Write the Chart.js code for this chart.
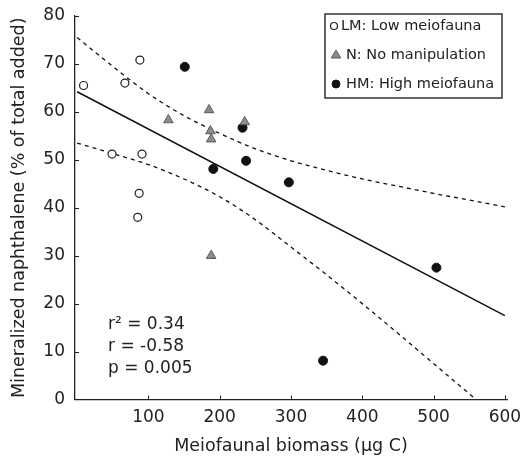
<!DOCTYPE html>
<html>
<head>
<meta charset="utf-8">
<script src="https://cdn.jsdelivr.net/npm/chart.js@4"></script>
<style>
  html, body { margin: 0; padding: 0; background: #fff; }
  #wrap { width: 525px; height: 460px; }
</style>
</head>
<body>
<div id="wrap"><canvas id="chart" width="525" height="460"></canvas></div>
<script>
// meiofaunal biomass (ug C) vs mineralized naphthalene (%)
const lowX = [9, 67, 88, 49, 91, 87, 85];
const lowY = [65.5, 66, 70.8, 51.2, 51.2, 43, 38];
const noManipX = [128, 185, 187, 188, 235, 188];
const noManipY = [58.3, 60.4, 56, 54.3, 57.9, 30];
const highX = [151, 232, 191, 237, 297, 504, 345];
const highY = [69.4, 56.7, 48.1, 49.8, 45.3, 27.5, 8.1];

// fitted line and 95% band
const fitX = [0, 600];
const fitY = [64.2, 17.5];
const bandX = [0, 50, 100, 150, 200, 250, 300, 350, 400, 450, 500, 550, 600];
const upperBand = [75.5, 69.5, 63.8, 59.2, 55.5, 52.3, 49.8, 47.8, 46.0, 44.5, 43.0, 41.6, 40.2];
const lowerBand = [53.5, 51.3, 49.0, 46.0, 42.3, 37.5, 31.8, 26.0, 20.0, 13.8, 7.5, 1.2, -5.0];

const xTicks = [100, 200, 300, 400, 500, 600];
const yTicks = [0, 10, 20, 30, 40, 50, 60, 70, 80];
const statsText = ['r\u00B2 = 0.34', 'r = -0.58', 'p = 0.005'];
const legendLabels = ['LM: Low meiofauna', 'N: No manipulation', 'HM: High meiofauna'];

const FONT = "'DejaVu Sans', sans-serif";
const INK = '#222';

const pts = (xs, ys) => xs.map((x, i) => ({ x: x, y: ys[i] }));

const styles = [
  { pointStyle: 'circle', radius: 4, bg: '#fff', border: '#222', bw: 1.2 },
  { pointStyle: 'triangle', radius: 5.5, bg: '#8c8c8c', border: '#5a5a5a', bw: 1 },
  { pointStyle: 'circle', radius: 4.5, bg: '#111', border: '#111', bw: 1 }
];

const pointSet = (label, data, s) => ({
  label: label,
  data: data,
  pointStyle: s.pointStyle,
  pointRadius: s.radius,
  backgroundColor: s.bg,
  borderColor: s.border,
  borderWidth: s.bw,
  showLine: false,
  order: 1
});

const lineSet = (data, dash) => ({
  data: data,
  showLine: true,
  pointRadius: 0,
  borderColor: '#111',
  borderWidth: dash ? 1.3 : 1.5,
  borderDash: dash ? [4, 4] : [],
  cubicInterpolationMode: 'monotone',
  fill: false,
  order: 5
});

// scales should not push the plot area around for label overhang
const noOverhang = (scale) => {
  scale.paddingLeft = 0;
  scale.paddingRight = 0;
  scale.paddingTop = 0;
  scale.paddingBottom = 0;
};

// legend box, stats text and inward tick marks
const extras = {
  id: 'extras',
  afterDraw(chart) {
    const ctx = chart.ctx;
    const xs = chart.scales.x, ys = chart.scales.y;
    const area = chart.chartArea;
    ctx.save();
    ctx.strokeStyle = INK;
    ctx.lineWidth = 1;
    ctx.beginPath();
    xTicks.forEach(v => {
      const px = Math.round(xs.getPixelForValue(v)) + 0.5;
      ctx.moveTo(px, area.bottom);
      ctx.lineTo(px, area.bottom - 4);
    });
    yTicks.slice(1).forEach(v => {
      const py = Math.round(ys.getPixelForValue(v)) + 0.5;
      ctx.moveTo(area.left, py);
      ctx.lineTo(area.left + 4, py);
    });
    ctx.stroke();

    // legend
    ctx.lineWidth = 1.5;
    ctx.strokeStyle = '#333';
    ctx.strokeRect(325, 14, 177, 84);
    ctx.font = '14.5px ' + FONT;
    ctx.textBaseline = 'middle';
    const rows = [26, 55, 84];
    legendLabels.forEach((txt, i) => {
      const s = styles[i];
      const cx = i === 0 ? 334 : 336;
      ctx.save();
      ctx.fillStyle = s.bg;
      ctx.strokeStyle = s.border;
      ctx.lineWidth = s.bw;
      ctx.beginPath();
      if (s.pointStyle === 'triangle') {
        const r = s.radius - 0.5;
        ctx.moveTo(cx, rows[i] - r);
        ctx.lineTo(cx + r * 0.95, rows[i] + r * 0.6);
        ctx.lineTo(cx - r * 0.95, rows[i] + r * 0.6);
        ctx.closePath();
      } else {
        ctx.arc(cx, rows[i], s.radius - 0.5, 0, Math.PI * 2);
      }
      ctx.fill();
      ctx.stroke();
      ctx.restore();
      ctx.fillStyle = INK;
      ctx.fillText(txt, i === 0 ? 341 : 346, rows[i]);
    });

    // stats
    ctx.font = '17px ' + FONT;
    ctx.textAlign = 'left';
    [325, 347, 369].forEach((y, i) => ctx.fillText(statsText[i], 108, y));
    ctx.restore();
  }
};

new Chart(document.getElementById('chart').getContext('2d'), {
  type: 'scatter',
  data: {
    datasets: [
      pointSet(legendLabels[0], pts(lowX, lowY), styles[0]),
      pointSet(legendLabels[1], pts(noManipX, noManipY), styles[1]),
      pointSet(legendLabels[2], pts(highX, highY), styles[2]),
      lineSet(pts(fitX, fitY), false),
      lineSet(pts(bandX, upperBand), true),
      lineSet(pts(bandX, lowerBand), true)
    ]
  },
  options: {
    responsive: false,
    animation: false,
    layout: { padding: { left: 0, right: 18, top: 16, bottom: 0 } },
    plugins: {
      legend: { display: false },
      tooltip: { enabled: false }
    },
    scales: {
      x: {
        type: 'linear',
        min: -3,
        max: 603,
        afterBuildTicks: (scale) => { scale.ticks = xTicks.map(v => ({ value: v })); },
        afterFit: (scale) => { scale.height = 60.5; noOverhang(scale); },
        grid: { display: true, drawOnChartArea: false, drawTicks: false },
        border: { display: true, color: INK, width: 1.3 },
        ticks: { color: INK, font: { family: FONT, size: 17 }, padding: 8, maxRotation: 0 },
        title: {
          display: true,
          text: 'Meiofaunal biomass (\u03BCg C)',
          color: INK,
          font: { family: FONT, size: 17.5 },
          padding: { top: 0, bottom: 3 }
        }
      },
      y: {
        type: 'linear',
        min: 0,
        max: 80,
        afterBuildTicks: (scale) => { scale.ticks = yTicks.map(v => ({ value: v })); },
        afterFit: (scale) => { scale.width = 75; noOverhang(scale); },
        grid: { display: true, drawOnChartArea: false, drawTicks: false },
        border: { display: true, color: INK, width: 1.3 },
        ticks: { color: INK, font: { family: FONT, size: 17 }, padding: 10 },
        title: {
          display: true,
          text: 'Mineralized naphthalene (% of total added)',
          color: INK,
          font: { family: FONT, size: 17.5 },
          padding: { top: 9, bottom: 0 }
        }
      }
    }
  },
  plugins: [extras]
});
</script>
</body>
</html>
